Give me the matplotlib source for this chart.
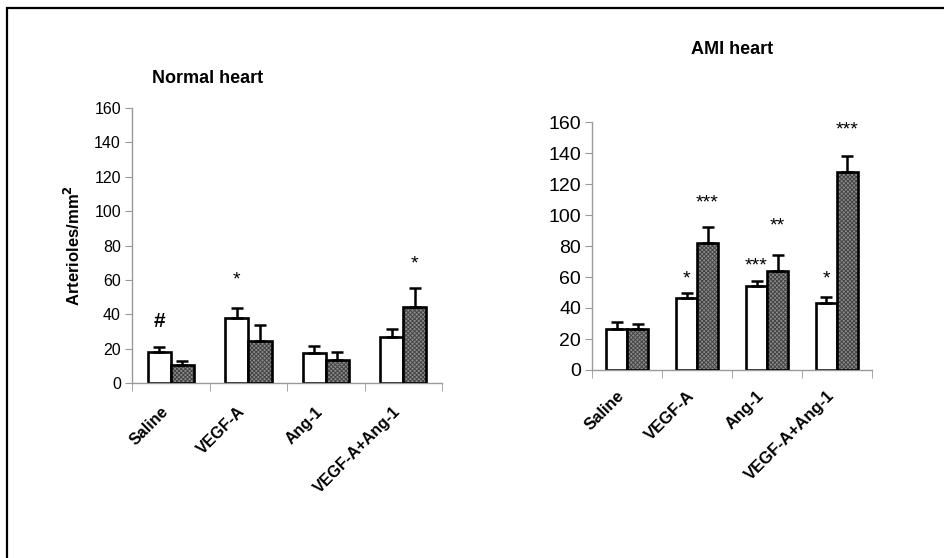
import matplotlib
matplotlib.use("Agg")
import matplotlib.pyplot as plt
import numpy as np
from matplotlib.patches import Rectangle

plt.rcParams['font.family'] = ['Liberation Sans', 'DejaVu Sans']
plt.rcParams['hatch.linewidth'] = 0.7

groups = ["Saline", "VEGF-A", "Ang-1", "VEGF-A+Ang-1"]

# normal heart: open bars / shaded bars, mean and upper error
normal_open = [18, 37.9, 17.5, 26.8]
normal_open_err = [3, 5.8, 4, 4.7]
normal_shaded = [10.5, 24.5, 13.4, 44.3]
normal_shaded_err = [2.3, 9.3, 4.6, 11]

# AMI heart
ami_open = [26.5, 46.5, 54, 43]
ami_open_err = [4.5, 3, 3.4, 4]
ami_shaded = [26.5, 82, 64, 128]
ami_shaded_err = [3.5, 10, 10, 10]

# significance marks: (group, bar, label, y)
normal_marks = [(0, 0, "#", 36), (1, 0, "*", 60), (3, 1, "*", 69)]
ami_marks = [(1, 0, "*", 59), (1, 1, "***", 108), (2, 0, "***", 67),
             (2, 1, "**", 93), (3, 0, "*", 59), (3, 1, "***", 155)]

W = 0.3
fig = plt.figure(figsize=(9.45, 5.58), dpi=100)
fig.patch.set_facecolor('white')

# outer frame
fig.patches.append(Rectangle((7 / 945, -0.1), 1.2, 1.1 - 8 / 558, transform=fig.transFigure,
                             fill=False, edgecolor='black', linewidth=1.6))


def draw_panel(ax, open_vals, open_err, shaded_vals, shaded_err, marks, tick_fs, lab_fs, lab_pad):
    x = np.arange(len(groups))
    n = len(groups)
    ax.bar(x - W / 2, open_vals, W, color='white', edgecolor='black', linewidth=1.9, zorder=2)
    ax.bar(x + W / 2, shaded_vals, W, color='#8c8c8c', hatch='xxxxxxxx', edgecolor='#444444',
           linewidth=0, zorder=2)
    ax.bar(x + W / 2, shaded_vals, W, fill=False, edgecolor='black', linewidth=1.9, zorder=3)
    ax.errorbar(x - W / 2, open_vals, yerr=[np.zeros(n), open_err], fmt='none',
                ecolor='black', elinewidth=1.8, capsize=4.6, capthick=1.8, zorder=4)
    ax.errorbar(x + W / 2, shaded_vals, yerr=[np.zeros(n), shaded_err], fmt='none',
                ecolor='black', elinewidth=1.8, capsize=4.6, capthick=1.8, zorder=4)
    for g, b, lab, yv in marks:
        xp = g - W / 2 if b == 0 else g + W / 2
        if lab == "#":
            ax.text(xp, yv, lab, ha='center', va='center', fontsize=15, fontweight='bold')
        else:
            ax.text(xp, yv, lab, ha='center', va='center', fontsize=14)
    ax.set_xlim(-0.5, n - 0.5)
    ax.set_ylim(0, 160)
    ax.set_yticks(np.arange(0, 161, 20))
    ax.set_xticks(x)
    ax.set_xticklabels(groups, rotation=45, ha='right', fontsize=lab_fs, fontweight='bold')
    ax.set_xticks(np.arange(-0.5, n, 1), minor=True)
    ax.tick_params(axis='x', which='major', length=0, pad=lab_pad)
    ax.tick_params(axis='x', which='minor', length=6, color='#999999', direction='out')
    ax.tick_params(axis='y', length=5, color='#999999', labelsize=tick_fs, pad=3)
    for s in ['top', 'right']:
        ax.spines[s].set_visible(False)
    for s in ['left', 'bottom']:
        ax.spines[s].set_color('#999999')
        ax.spines[s].set_linewidth(1.0)
    ax.set_facecolor('none')


ax1 = fig.add_axes([132 / 945, 1 - 383 / 558, 310 / 945, 275 / 558])
draw_panel(ax1, normal_open, normal_open_err, normal_shaded, normal_shaded_err,
           normal_marks, 11.5, 11.5, 15)
ax1.set_ylabel("Arterioles/mm$^{\\mathbf{2}}$", fontsize=12, fontweight='bold', labelpad=8)
fig.text(208 / 945, 1 - 79 / 558, "Normal heart", ha='center', va='center',
         fontsize=13, fontweight='bold')

ax2 = fig.add_axes([592 / 945, 1 - 370 / 558, 280 / 945, 248 / 558])
draw_panel(ax2, ami_open, ami_open_err, ami_shaded, ami_shaded_err,
           ami_marks, 14, 12, 13)
fig.text(732 / 945, 1 - 50 / 558, "AMI heart", ha='center', va='center',
         fontsize=13, fontweight='bold')

fig.savefig("out.png", dpi=100, facecolor='white')
